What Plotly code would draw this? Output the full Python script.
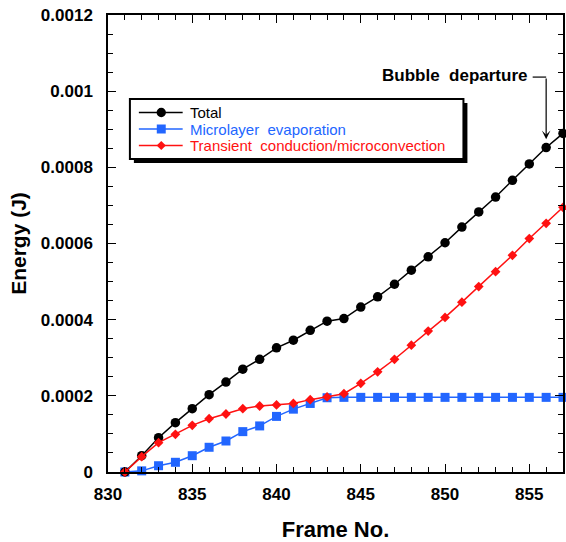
import plotly.graph_objects as go

frames = list(range(831, 858))
total = [0.0, 0.0000428, 0.00009, 0.0001295, 0.0001663, 0.000203, 0.000236, 0.00027, 0.000296,
         0.000326, 0.000346, 0.000372, 0.000396, 0.000403, 0.000433, 0.00046, 0.000493, 0.00053,
         0.000565, 0.000602, 0.000643, 0.000683, 0.000722, 0.000766, 0.000809, 0.000852, 0.000889]
microlayer = [0.0, 0.000003, 0.0000165, 0.0000255, 0.0000428, 0.0000649, 0.0000814, 0.000106,
              0.000121, 0.000146, 0.000165, 0.00018, 0.000195, 0.000196, 0.000196, 0.000196,
              0.000196, 0.000196, 0.000196, 0.000196, 0.000196, 0.000196, 0.000196, 0.000196,
              0.000196, 0.000196, 0.000196]
transient = [0.0, 0.0000402, 0.000077, 0.0000989, 0.0001226, 0.00014, 0.0001523, 0.0001663,
             0.0001733, 0.000176, 0.00018, 0.00019, 0.000197, 0.0002056, 0.000233, 0.000263,
             0.000296, 0.000333, 0.00037, 0.000406, 0.000446, 0.000487, 0.000526, 0.000569,
             0.000613, 0.000653, 0.000695]

series_names = ["Total", "Microlayer  evaporation", "Transient  conduction/microconvection"]
x_ticks = [830, 835, 840, 845, 850, 855]
y_ticks = [0, 0.0002, 0.0004, 0.0006, 0.0008, 0.001, 0.0012]
y_ticklabels = ["0", "0.0002", "0.0004", "0.0006", "0.0008", "0.001", "0.0012"]

BLUE = "#2266ff"
RED = "#ff1111"
BLACK = "black"
FONT = "Liberation Sans, Arial, sans-serif"

fig = go.Figure()
fig.add_trace(go.Scatter(x=frames, y=microlayer, mode="lines+markers", name=series_names[1],
                         line=dict(color=BLUE, width=1.5),
                         marker=dict(symbol="square", size=9, color=BLUE),
                         cliponaxis=False, showlegend=False))
fig.add_trace(go.Scatter(x=frames, y=total, mode="lines+markers", name=series_names[0],
                         line=dict(color=BLACK, width=1.5),
                         marker=dict(symbol="circle", size=9.5, color=BLACK),
                         cliponaxis=False, showlegend=False))
fig.add_trace(go.Scatter(x=frames, y=transient, mode="lines+markers", name=series_names[2],
                         line=dict(color=RED, width=1.5),
                         marker=dict(symbol="diamond", size=7.5, color=RED),
                         cliponaxis=False, showlegend=False))

L, R, T, B = 108, 1, 15, 70
W, H = 566, 542
pw, ph = W - L - R, H - T - B


def px(xp):
    return (xp - L) / pw


def py(yp):
    return (H - B - yp) / ph


def add_rect(x0, y0, x1, y1, **kw):
    fig.add_shape(type="rect", xref="paper", yref="paper", x0=px(x0), x1=px(x1),
                  y0=py(y1), y1=py(y0), layer="above", **kw)


# manual legend: shadow, box, entries
add_rect(134, 103, 469, 163, fillcolor="black", line=dict(width=0))
add_rect(130, 99, 465, 159, fillcolor="white", line=dict(color="black", width=2))

legend_rows = [(series_names[0], BLACK, "circle", 112.5),
               (series_names[1], BLUE, "square", 129),
               (series_names[2], RED, "diamond", 145.5)]
for name, col, sym, yrow in legend_rows:
    fig.add_shape(type="line", xref="paper", yref="paper", x0=px(139), x1=px(183),
                  y0=py(yrow), y1=py(yrow), line=dict(color=col, width=1.5), layer="above")
    cx = 161.5
    if sym == "circle":
        fig.add_shape(type="circle", xref="paper", yref="paper", x0=px(cx - 4.7), x1=px(cx + 4.7),
                      y0=py(yrow + 4.7), y1=py(yrow - 4.7), fillcolor=col,
                      line=dict(width=0), layer="above")
    elif sym == "square":
        add_rect(cx - 4.5, yrow - 4.5, cx + 4.5, yrow + 4.5, fillcolor=col, line=dict(width=0))
    else:
        d = 4.6
        path = "M %f %f L %f %f L %f %f L %f %f Z" % (
            px(cx - d), py(yrow), px(cx), py(yrow - d), px(cx + d), py(yrow), px(cx), py(yrow + d))
        fig.add_shape(type="path", xref="paper", yref="paper", path=path, fillcolor=col,
                      line=dict(width=0), layer="above")
    fig.add_annotation(x=px(188), y=py(yrow), xref="paper", yref="paper", text=name,
                       showarrow=False, xanchor="left", yanchor="middle",
                       font=dict(family=FONT, size=15, color=col))

# annotation arrow
fig.add_annotation(x=856, y=0.000874, ax=856, ay=0.001037, xref="x", yref="y",
                   axref="x", ayref="y", text="", showarrow=True, arrowhead=3,
                   arrowsize=1.2, arrowwidth=1.2, arrowcolor="black")
fig.add_shape(type="line", xref="x", yref="y", x0=855.2, x1=856, y0=0.001037, y1=0.001037,
              line=dict(color="black", width=1.2))
fig.add_annotation(x=px(531), y=0.00104, xref="paper", yref="y", text="<b>Bubble  departure</b>",
                   showarrow=False, xanchor="right", yanchor="middle",
                   font=dict(family=FONT, size=17, color="black"))

fig.update_layout(
    width=W, height=H,
    margin=dict(l=L, r=R, t=T, b=B, pad=0),
    paper_bgcolor="white", plot_bgcolor="white",
    font=dict(family=FONT, color="black"),
    showlegend=False,
    xaxis=dict(range=[830, 857], tickvals=x_ticks, ticktext=["<b>%d</b>" % t for t in x_ticks],
               ticks="inside", ticklen=8, tickwidth=1,
               tickcolor="black", showline=True, linecolor="black", linewidth=1.5, mirror="ticks",
               showgrid=False, zeroline=False, ticklabelstandoff=6,
               tickfont=dict(family=FONT, size=17, color="black"),
               minor=dict(dtick=1, ticks="inside", ticklen=5, tickcolor="black", showgrid=False),
               title=dict(text="<b>Frame No.</b>", font=dict(family=FONT, size=22), standoff=18)),
    yaxis=dict(range=[0, 0.0012], tickvals=y_ticks, ticktext=["<b>%s</b>" % t for t in y_ticklabels],
               ticks="inside", ticklen=8, tickwidth=1, tickcolor="black",
               showline=True, linecolor="black", linewidth=1.5, mirror="ticks",
               showgrid=False, zeroline=False, ticklabelstandoff=10,
               tickfont=dict(family=FONT, size=17, color="black"),
               minor=dict(dtick=0.00005, ticks="inside", ticklen=5, tickcolor="black", showgrid=False),
               title=dict(text="<b>Energy (J)</b>", font=dict(family=FONT, size=21), standoff=8)),
)

fig.write_html("out.html")
